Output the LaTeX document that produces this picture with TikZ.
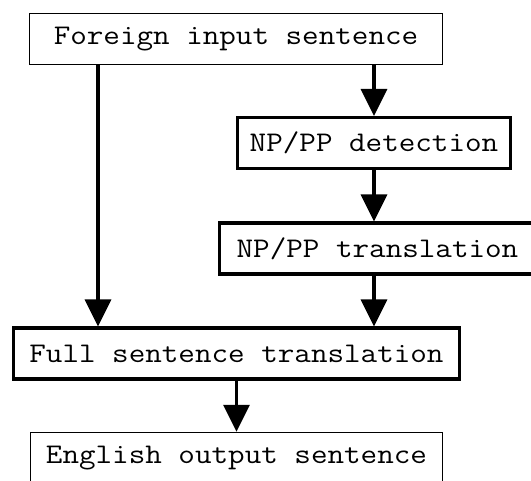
\documentclass[tikz,border=0pt]{standalone}
\usepackage{fontspec}
\setmonofont[FakeStretch=1.13]{Latin Modern Mono}
\usetikzlibrary{arrows.meta}
\begin{document}
\begin{tikzpicture}
[boxthin/.style={shape=rectangle,draw,line width=0.75pt,minimum height=1.02cm,inner sep=0pt,%
    font=\ttfamily\fontsize{16.2}{19}\selectfont},%
  boxthick/.style={boxthin,line width=1.8pt},%
  arrowdecorate/.style={-{Triangle[width=0.52cm,length=0.54cm]},line width=1.85pt}]
\useasboundingbox (0,0) rectangle (10.62,-9.6);
%% boxes
\foreach \nodename/\x/\y/\w/\sty/\txt in {%
    foreign/4.72/-0.78/8.26/boxthin/{Foreign input sentence},
    det/7.48/-2.86/5.46/boxthick/{NP/PP detection},
    trans/7.55/-4.97/6.32/boxthick/{NP/PP translation},
    full/4.73/-7.07/8.92/boxthick/{Full sentence translation},
    english/4.73/-9.16/8.24/boxthin/{English output sentence}} {
  \node (\nodename) at (\x,\y) [\sty,minimum width=\w cm] {\txt};
}
%% arrows
\coordinate (side) at (1.96,0);
\draw[arrowdecorate] (foreign.south -| side) -- (full.north -| side);
\draw[arrowdecorate] (foreign.south -| det.north) -- (det.north);
\draw[arrowdecorate] (det.south) -- (det.south |- trans.north);
\draw[arrowdecorate] (trans.south -| det.south) -- (full.north -| det.south);
\draw[arrowdecorate] (full.south) -- (english.north);
\end{tikzpicture}
\end{document}
